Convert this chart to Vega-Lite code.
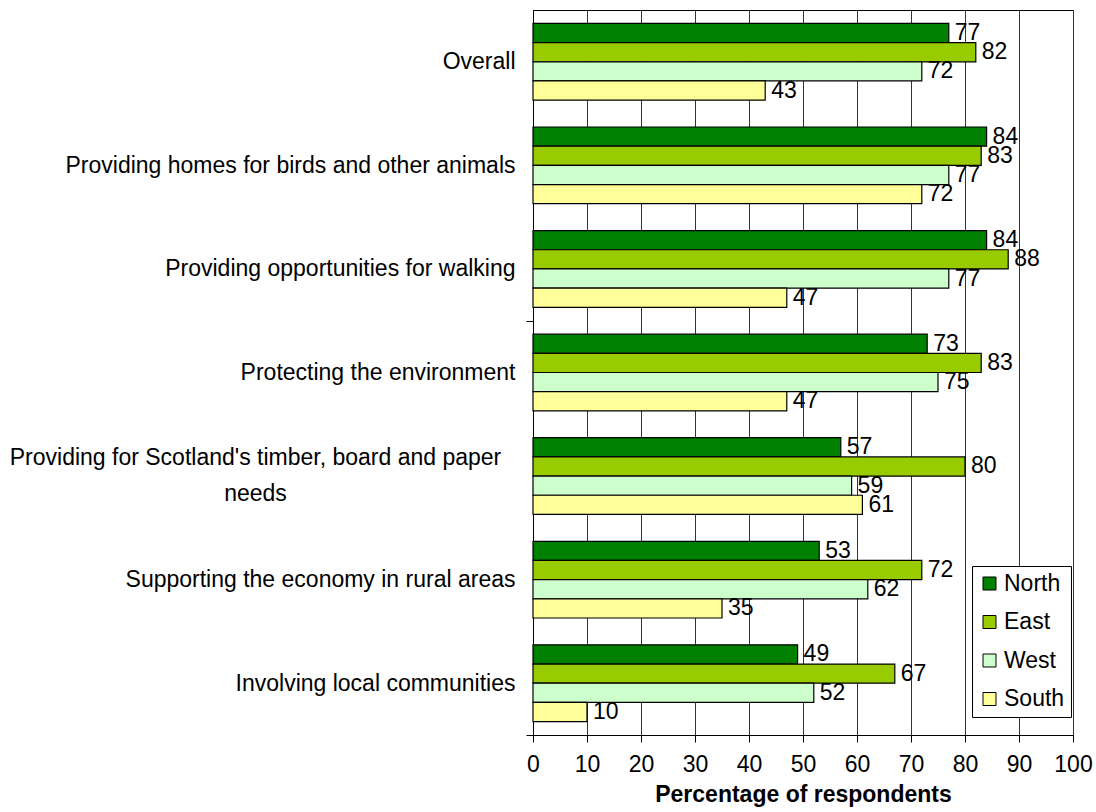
{
  "$schema": "https://vega.github.io/schema/vega-lite/v6.json",
  "autosize": {"type": "none"},
  "padding": {"left": 533, "top": 10, "right": 23, "bottom": 77},
  "width": 540,
  "height": 725,
  "background": "white",
  "config": {
    "font": "Liberation Sans",
    "view": {"stroke": "black", "strokeWidth": 1}
  },
  "data": {"values": [
    {"item": "Overall", "region": "North", "pct": 77},
    {"item": "Overall", "region": "East", "pct": 82},
    {"item": "Overall", "region": "West", "pct": 72},
    {"item": "Overall", "region": "South", "pct": 43},
    {"item": "Providing homes for birds and other animals", "region": "North", "pct": 84},
    {"item": "Providing homes for birds and other animals", "region": "East", "pct": 83},
    {"item": "Providing homes for birds and other animals", "region": "West", "pct": 77},
    {"item": "Providing homes for birds and other animals", "region": "South", "pct": 72},
    {"item": "Providing opportunities for walking", "region": "North", "pct": 84},
    {"item": "Providing opportunities for walking", "region": "East", "pct": 88},
    {"item": "Providing opportunities for walking", "region": "West", "pct": 77},
    {"item": "Providing opportunities for walking", "region": "South", "pct": 47},
    {"item": "Protecting the environment", "region": "North", "pct": 73},
    {"item": "Protecting the environment", "region": "East", "pct": 83},
    {"item": "Protecting the environment", "region": "West", "pct": 75},
    {"item": "Protecting the environment", "region": "South", "pct": 47},
    {"item": "Providing for Scotland's timber, board and paper needs", "region": "North", "pct": 57},
    {"item": "Providing for Scotland's timber, board and paper needs", "region": "East", "pct": 80},
    {"item": "Providing for Scotland's timber, board and paper needs", "region": "West", "pct": 59},
    {"item": "Providing for Scotland's timber, board and paper needs", "region": "South", "pct": 61},
    {"item": "Supporting the economy in rural areas", "region": "North", "pct": 53},
    {"item": "Supporting the economy in rural areas", "region": "East", "pct": 72},
    {"item": "Supporting the economy in rural areas", "region": "West", "pct": 62},
    {"item": "Supporting the economy in rural areas", "region": "South", "pct": 35},
    {"item": "Involving local communities", "region": "North", "pct": 49},
    {"item": "Involving local communities", "region": "East", "pct": 67},
    {"item": "Involving local communities", "region": "West", "pct": 52},
    {"item": "Involving local communities", "region": "South", "pct": 10}
  ]},
  "encoding": {
    "y": {
      "field": "item", "type": "nominal", "sort": null,
      "scale": {"paddingInner": 0, "paddingOuter": 0},
      "axis": {
        "title": null, "domainColor": "black", "tickColor": "black", "tickSize": 7,
        "tickBand": "extent",
        "tickOpacity": {"condition": {"test": "datum.value == 'Providing opportunities for walking' || datum.value == 'Involving local communities'", "value": 1}, "value": 0},
        "labelFontSize": 23, "labelColor": "black",
        "labelLimit": 700, "labelLineHeight": 36, "grid": false,
        "labelAlign": {"condition": {"test": "datum.value == \"Providing for Scotland's timber, board and paper needs\"", "value": "center"}, "value": "right"},
        "labelPadding": {"condition": {"test": "datum.value == \"Providing for Scotland's timber, board and paper needs\"", "value": 271}, "value": 11},
        "labelOffset": {"condition": {"test": "datum.value == \"Providing for Scotland's timber, board and paper needs\"", "value": -19}, "value": 0},
        "labelExpr": "datum.value == \"Providing for Scotland's timber, board and paper needs\" ? [\"Providing for Scotland's timber, board and paper\", \"needs\"] : datum.value"
      }
    },
    "yOffset": {
      "field": "region", "type": "nominal",
      "scale": {"domain": ["North", "East", "West", "South"], "paddingInner": 0, "paddingOuter": 0.7}
    },
    "x": {
      "field": "pct", "type": "quantitative",
      "scale": {"domain": [0, 100], "nice": false},
      "axis": {
        "title": "Percentage of respondents", "titleFontSize": 23, "titleFontWeight": "bold",
        "titleColor": "black", "titlePadding": 7,
        "values": [0, 10, 20, 30, 40, 50, 60, 70, 80, 90, 100],
        "labelFontSize": 23, "labelColor": "black", "labelPadding": 11,
        "tickSize": 7, "tickColor": "black", "domainColor": "black",
        "grid": true, "gridColor": "#333333", "gridWidth": 1, "gridOpacity": 1,
        "labelFlush": false
      }
    }
  },
  "layer": [
    {
      "mark": {"type": "bar", "stroke": "black", "strokeWidth": 1.2},
      "encoding": {
        "color": {
          "field": "region", "type": "nominal",
          "scale": {"domain": ["North", "East", "West", "South"], "range": ["#008000", "#99CC00", "#CCFFCC", "#FFFF99"]},
          "legend": {
            "title": null, "orient": "none", "legendX": 439, "legendY": 556,
            "symbolType": "square", "symbolSize": 169, "symbolStrokeColor": "black", "symbolStrokeWidth": 1,
            "symbolOpacity": 1,
            "labelFontSize": 23, "labelColor": "black", "rowPadding": 14.5, "labelOffset": 3,
            "padding": 6, "strokeColor": "black", "fillColor": "white"
          }
        }
      }
    },
    {
      "mark": {"type": "text", "align": "left", "baseline": "middle", "dx": 6, "fontSize": 23, "color": "black"},
      "encoding": {"text": {"field": "pct", "type": "quantitative"}}
    }
  ]
}
